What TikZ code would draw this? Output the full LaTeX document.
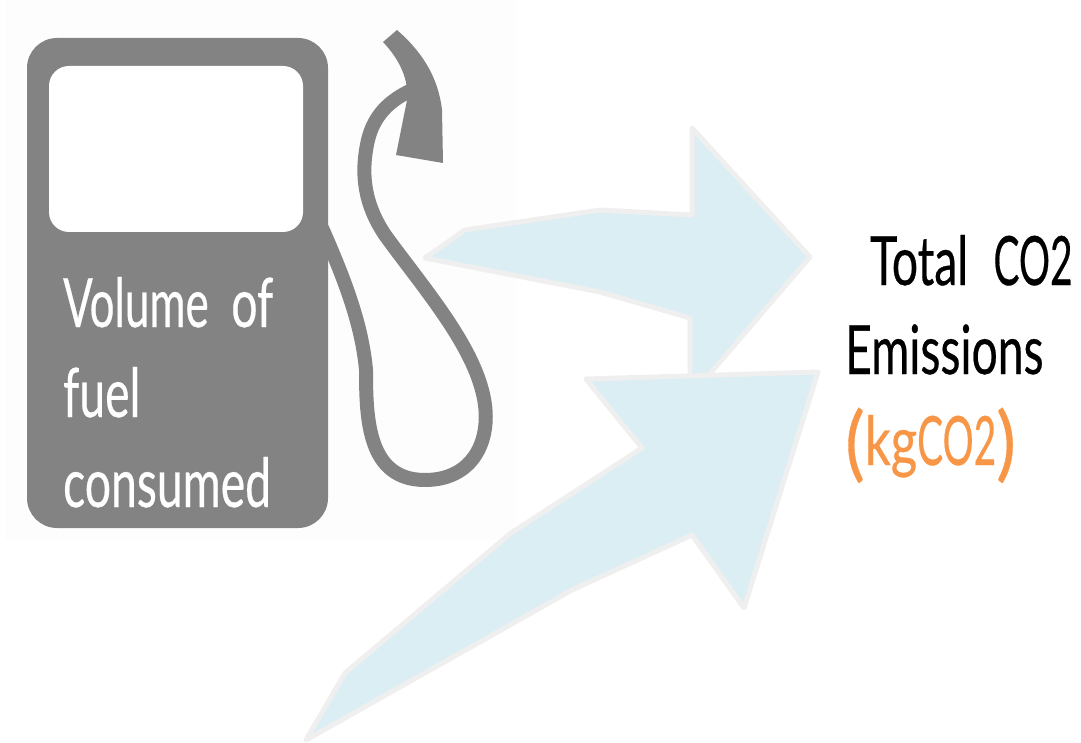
\documentclass[tikz,border=0pt]{standalone}
\usepackage{fontspec}
\setmainfont{Lato}[FakeBold=0.5,AutoFakeBold=0.5]
\definecolor{pumpgrey}{HTML}{838383}
\definecolor{arrowfill}{HTML}{DBEEF3}
\definecolor{arrowline}{HTML}{EFEFEF}
\definecolor{kgorange}{HTML}{F79646}
\definecolor{paper}{HTML}{FDFDFD}
\newcommand{\narrowco}{\scalebox{.84}[1]{CO2}}
\newcommand{\tallparen}[1]{\raisebox{-6pt}{\scalebox{1.6}[1.2]{#1}}}
\tikzset{
  bigarrow/.style={fill=arrowfill,draw=arrowline,line width=5pt,line join=round},
  hose/.style={draw=pumpgrey,line width=14pt},
  label/.style={anchor=base west,inner sep=0pt,font=\fontsize{68}{68}\selectfont\bfseries,xscale=.68},
}
\begin{document}
\begin{tikzpicture}[x=1pt,y=-1pt]
\useasboundingbox (0,0) rectangle (1081,743);
\fill[paper] (5,0) rectangle (516,540);
% pump body
\fill[pumpgrey,rounded corners=30pt] (27,38) rectangle (328,528);
\fill[white,rounded corners=20pt] (49,66) rectangle (303,232);
% hose
\draw[hose] (322,228) .. controls (345,280) and (362,325) .. (366,370)
  .. controls (366,420) and (368,480) .. (425,480)
  .. controls (470,480) and (490,445) .. (485,405)
  .. controls (478,350) and (425,290) .. (385,235)
  .. controls (365,205) and (360,175) .. (368,140)
  .. controls (374,115) and (390,100) .. (412,90);
% nozzle
\fill[pumpgrey] (383,42) -- (397,30) .. controls (420,50) and (438,75) .. (442,110)
  -- (443,163) -- (396,155) -- (407,100) .. controls (409,80) and (400,60) .. (383,42) -- cycle;
% arrows
\draw[bigarrow] (425,258) -- (465,230) -- (600,210) -- (692,215) -- (692,128)
  -- (810,257) -- (708,376) -- (690,376) -- (690,318) -- (600,292) -- cycle;
\draw[bigarrow] (586,379) -- (818,372) -- (744,608) -- (692,535) -- (572,590)
  -- (306,740) -- (345,673) -- (511,533) -- (642,448) -- cycle;
% texts
\node[label,text=white] (vol) at (63,327) {\scalebox{.95}[1]{Volume}\hspace{.49em}of};
\node[label,text=white] (fuel) at (63,417) {fuel};
\node[label,text=white] (cons) at (63,507) {consumed};
\node[label] (total) at (870,285) {Total\hspace{.55em}\narrowco};
\node[label] (emis) at (845,374) {Emissions};
\node[label,text=kgorange] (kg) at (845,465) {\tallparen{(}\scalebox{1.1}[1]{kg}\narrowco\tallparen{)}};
\end{tikzpicture}
\end{document}
